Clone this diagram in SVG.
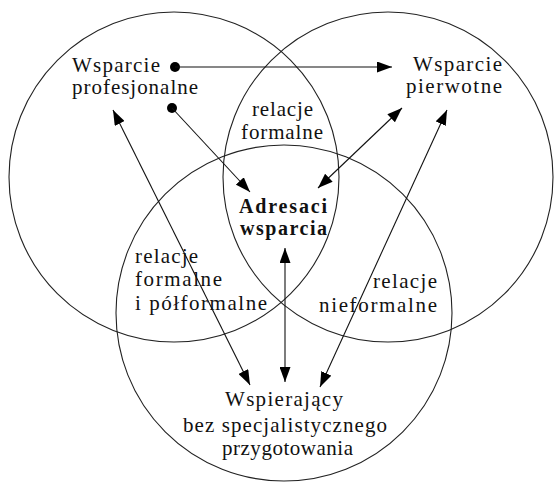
<svg xmlns="http://www.w3.org/2000/svg" width="555" height="483" viewBox="0 0 555 483">
  <style>
    .circ { fill: none; stroke: #222; stroke-width: 1.1; }
    .ln { fill: none; stroke: #111; stroke-width: 1.1; }
    .arr { marker-end: url(#ah); }
    .both { marker-start: url(#ah); marker-end: url(#ah); }
    text { font-family: "Liberation Serif", "Times New Roman", serif; font-size: 21px; fill: #111; }
    .b { font-weight: bold; font-size: 20px; }
  </style>
  <defs>
    <marker id="ah" markerUnits="userSpaceOnUse" markerWidth="15" markerHeight="11" refX="15" refY="5.5" orient="auto-start-reverse">
      <path d="M0,0 L15,5.5 L0,11 z" fill="#000"/>
    </marker>
  </defs>
  <rect width="555" height="483" fill="#fff"/>
  <g id="circles">
    <circle class="circ" cx="174" cy="177" r="165"/>
    <circle class="circ" cx="388" cy="177" r="165"/>
    <circle class="circ" cx="284" cy="313" r="168"/>
  </g>
  <g id="connectors">
    <circle cx="175" cy="67" r="5" fill="#000"/>
    <circle cx="172" cy="108" r="5" fill="#000"/>
    <line class="ln arr" x1="175" y1="67" x2="392" y2="67"/>
    <line class="ln arr" x1="172" y1="108" x2="250" y2="192"/>
    <line class="ln both" x1="318" y1="188" x2="402" y2="108"/>
    <line class="ln both" x1="113" y1="110" x2="250" y2="385"/>
    <line class="ln both" x1="447" y1="110" x2="320" y2="387"/>
    <line class="ln both" x1="285" y1="248" x2="285" y2="382"/>
  </g>
  <g id="node-profesjonalne">
    <text x="72" y="72" textLength="88">Wsparcie</text>
    <text x="72" y="94" textLength="126">profesjonalne</text>
  </g>
  <g id="node-pierwotne">
    <text x="413" y="71" textLength="89">Wsparcie</text>
    <text x="406" y="93" textLength="96">pierwotne</text>
  </g>
  <g id="label-formalne">
    <text x="252" y="116" textLength="61">relacje</text>
    <text x="241" y="139" textLength="82">formalne</text>
  </g>
  <g id="node-adresaci">
    <text class="b" x="239" y="213" textLength="88">Adresaci</text>
    <text class="b" x="240" y="235" textLength="87">wsparcia</text>
  </g>
  <g id="label-polformalne">
    <text x="135" y="263" textLength="63">relacje</text>
    <text x="135" y="286" textLength="87">formalne</text>
    <text x="135" y="310" textLength="132">i półformalne</text>
  </g>
  <g id="label-nieformalne">
    <text x="373" y="288" textLength="64">relacje</text>
    <text x="319" y="312" textLength="118">nieformalne</text>
  </g>
  <g id="node-wspierajacy">
    <text x="225" y="406" textLength="118">Wspierający</text>
    <text x="183" y="432" textLength="204">bez specjalistycznego</text>
    <text x="222" y="455" textLength="131">przygotowania</text>
  </g>
</svg>
